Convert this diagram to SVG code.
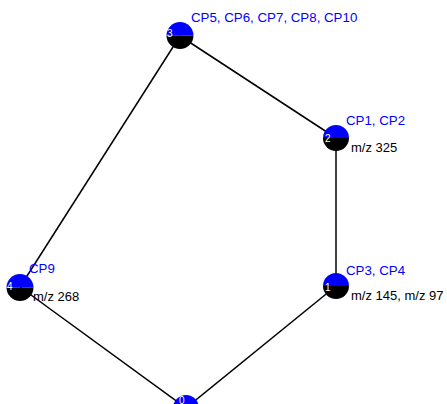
<svg xmlns="http://www.w3.org/2000/svg" width="447" height="404" viewBox="0 0 447 404">
<defs>
<style>
.top{fill:#0000ff}
.bot{fill:#000000}
.num{font-family:"Liberation Sans",Arial,sans-serif;font-size:10px;fill:#ffffff}
.cp{font-family:"Liberation Sans",Arial,sans-serif;font-size:13.3px;fill:#0000ff}
.mz{font-family:"Liberation Sans",Arial,sans-serif;font-size:13px;fill:#000000}
.edge{stroke:#000000;stroke-width:1.5;fill:none}
</style>
</defs>
<rect width="447" height="404" fill="#ffffff"/>
<g id="connectors">
<line class="edge" x1="180" y1="36" x2="336" y2="138"/>
<line class="edge" x1="336" y1="138" x2="336" y2="286"/>
<line class="edge" x1="336" y1="286" x2="186" y2="408"/>
<line class="edge" x1="186" y1="408" x2="20" y2="287"/>
<line class="edge" x1="20" y1="287" x2="180" y2="36"/>
</g>
<g id="node0">
<path class="top" d="M173,408 A13,13 0 0 1 199,408 Z"/>
<path class="bot" d="M173,408 A13,13 0 0 0 199,408 Z"/>
<text class="num" x="179" y="404">0</text>
</g>
<g id="node1">
<path class="top" d="M323,286 A13,13 0 0 1 349,286 Z"/>
<path class="bot" d="M323,286 A13,13 0 0 0 349,286 Z"/>
<text class="num" x="325" y="291">1</text>
<text class="cp" x="346" y="275">CP3, CP4</text>
<text class="mz" x="351" y="300">m/z 145, m/z 97</text>
</g>
<g id="node2">
<path class="top" d="M323,138 A13,13 0 0 1 349,138 Z"/>
<path class="bot" d="M323,138 A13,13 0 0 0 349,138 Z"/>
<text class="num" x="325" y="142">2</text>
<text class="cp" x="346" y="125">CP1, CP2</text>
<text class="mz" x="351" y="152">m/z 325</text>
</g>
<g id="node3">
<path class="top" d="M166.5,35.5 A13.5,13.5 0 0 1 193.5,35.5 Z"/>
<path class="bot" d="M166.5,35.5 A13.5,13.5 0 0 0 193.5,35.5 Z"/>
<text class="num" x="167" y="37">3</text>
<text class="cp" x="191" y="22">CP5, CP6, CP7, CP8, CP10</text>
</g>
<g id="node4">
<path class="top" d="M6.5,287.5 A13.5,13.5 0 0 1 33.5,287.5 Z"/>
<path class="bot" d="M6.5,287.5 A13.5,13.5 0 0 0 33.5,287.5 Z"/>
<text class="num" x="7" y="290">4</text>
<text class="cp" x="29" y="273">CP9</text>
<text class="mz" x="33" y="301">m/z 268</text>
</g>
</svg>
